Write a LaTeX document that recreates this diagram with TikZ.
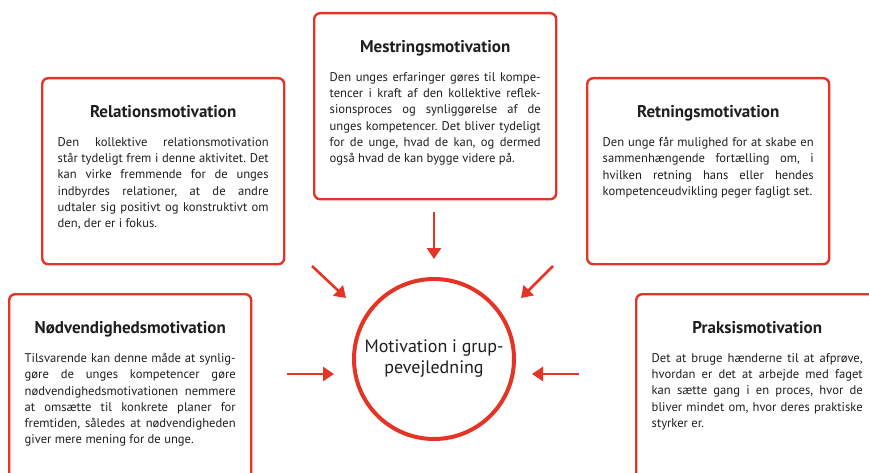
\documentclass[tikz,border=0pt]{standalone}
\usepackage{fontspec}
\setmainfont{PT Sans}
\usetikzlibrary{arrows.meta,positioning}
\definecolor{roed}{RGB}{228,52,38}
\definecolor{sort}{RGB}{30,30,30}
\tolerance=9999
\emergencystretch=10pt
\frenchspacing

\begin{document}
\begin{tikzpicture}[x=1pt,y=-1pt,
  kasse/.style={draw=roed,line width=2.4pt,rounded corners=6pt,minimum width=242pt,minimum height=186pt,anchor=north west,inner sep=0pt},
  titel/.style={font=\fontsize{17}{19}\selectfont\bfseries,text=sort,inner sep=0pt,anchor=north},
  brod/.style={font=\fontsize{12.6}{16.3}\selectfont,text=sort,text width=211pt,align=justify,anchor=north,inner sep=0pt},
  pil/.style={draw=roed,line width=2.6pt,-{Triangle[length=11pt,width=14pt]}}]
\clip (0,0) rectangle (869,473);
\useasboundingbox (0,0) rectangle (869,473);

\node[kasse] (relation) at (41,77) {};
\node[kasse] (mestring) at (313,12) {};
\node[kasse] (retning) at (586,77) {};
\node[kasse,minimum height=200pt] (noedv) at (8,293) {};
\node[kasse,minimum height=200pt] (praksis) at (635,293) {};

\node[titel,below=28.5pt of relation.north] (relationT) {Relationsmotivation};
\node[brod,below=60pt of relation.north] (relationB) {Den kollektive relationsmotivation\linebreak står tydeligt frem i denne aktivitet. Det\linebreak kan virke fremmende for de unges\linebreak indbyrdes relationer, at de andre\linebreak udtaler sig positivt og konstruktivt om\linebreak den, der er i fokus.};

\node[titel,below=28.5pt of mestring.north] (mestringT) {Mestringsmotivation};
\node[brod,below=60pt of mestring.north] (mestringB) {Den unges erfaringer gøres til kompe-\linebreak tencer i kraft af den kollektive reflek-\linebreak sionsproces og synliggørelse af de\linebreak unges kompetencer. Det bliver tydeligt\linebreak for de unge, hvad de kan, og dermed\linebreak også hvad de kan bygge videre på.};

\node[titel,below=28.5pt of retning.north] (retningT) {Retningsmotivation};
\node[brod,below=60pt of retning.north] (retningB) {Den unge får mulighed for at skabe en\linebreak sammenhængende fortælling om, i\linebreak hvilken retning hans eller hendes\linebreak kompetenceudvikling peger fagligt set.};

\node[titel,below=28.5pt of noedv.north] (noedvT) {Nødvendighedsmotivation};
\node[brod,below=60pt of noedv.north] (noedvB) {Tilsvarende kan denne måde at synlig-\linebreak gøre de unges kompetencer gøre\linebreak nødvendighedsmotivationen nemmere\linebreak at omsætte til konkrete planer for\linebreak fremtiden, således at nødvendigheden\linebreak giver mere mening for de unge.};

\node[titel,below=28.5pt of praksis.north] (praksisT) {Praksismotivation};
\node[brod,below=60pt of praksis.north] (praksisB) {Det at bruge hænderne til at afprøve,\linebreak hvordan er det at arbejde med faget\linebreak kan sætte gang i en proces, hvor de\linebreak bliver mindet om, hvor deres praktiske\linebreak styrker er.};

\node[circle,draw=roed,line width=4pt,minimum size=160pt,align=center,text=sort,font=\fontsize{18}{21}\selectfont] (motiv) at (434,359) {Motivation i grup-\\pevejledning};

\coordinate (top1) at (434,212);
\coordinate (top2) at (434,259);
\coordinate (vo1) at (312,266);
\coordinate (vo2) at (346,298);
\coordinate (ho1) at (553,266);
\coordinate (ho2) at (521,298);
\coordinate (v1) at (287,374);
\coordinate (v2) at (334,374);
\coordinate (h1) at (579,374);
\coordinate (h2) at (532,374);
\draw[pil] (top1) -- (top2);
\draw[pil] (vo1) -- (vo2);
\draw[pil] (ho1) -- (ho2);
\draw[pil] (v1) -- (v2);
\draw[pil] (h1) -- (h2);
\end{tikzpicture}
\end{document}
